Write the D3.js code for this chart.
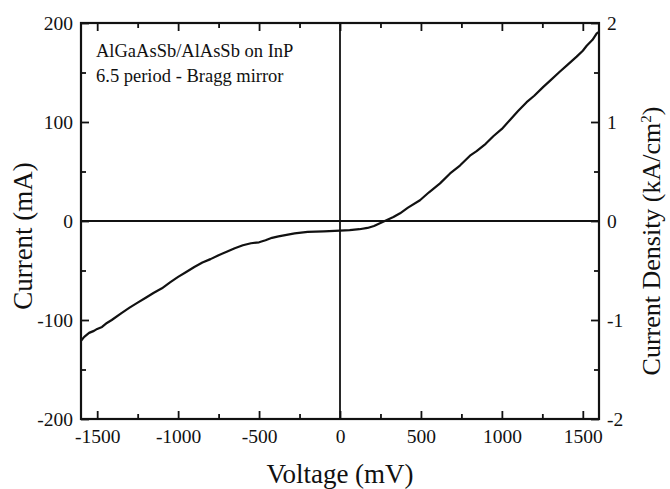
<!DOCTYPE html>
<html>
<head>
<meta charset="utf-8">
<script src="https://cdn.jsdelivr.net/npm/d3@7"></script>
<style>
  body { margin: 0; background: #fff; }
  text { font-family: "Liberation Serif", "Times New Roman", serif; fill: #111; }
</style>
</head>
<body>
<div id="chart"></div>
<script>
// I-V curve (voltage in mV, current in mA)
const voltage = [-1600, -1580, -1550, -1520, -1500, -1470, -1440, -1410, -1350, -1300,
  -1250, -1200, -1150, -1100, -1050, -1000, -950, -900, -850, -800,
  -750, -700, -650, -600, -550, -500, -460, -420, -380, -330,
  -280, -200, -100, 0, 60, 120, 170, 210, 250, 290,
  330, 371, 420, 494, 550, 618, 680, 741, 803, 844,
  900, 947, 1000, 1050, 1100, 1153, 1200, 1256, 1300, 1359,
  1400, 1462, 1500, 1524, 1560, 1586, 1600];
const current = [-121, -117, -113, -111, -109, -107, -103, -100, -93, -87.5,
  -82.5, -77.5, -72.5, -68, -62, -56.5, -51.5, -46.5, -42, -38.5,
  -34.5, -31, -27.5, -24.5, -22.5, -21.5, -19.5, -17, -15.5, -14,
  -12.5, -11, -10.5, -9.8, -9.2, -8.3, -7, -5, -2, 1,
  4, 7.8, 13.5, 21, 29, 38, 48, 56, 66, 70.5,
  78, 85.6, 93, 102, 111, 120, 126.5, 135.5, 142, 151,
  157, 166, 172, 177, 183, 189.5, 191];

const xTicks = [-1500, -1000, -500, 0, 500, 1000, 1500];
const xMinor = [-1250, -750, -250, 250, 750, 1250];
const yTicks = [-200, -100, 0, 100, 200];
const yMinor = [-150, -50, 50, 150];
const densTicks = [-2, -1, 0, 1, 2];
const densMinor = [-1.5, -0.5, 0.5, 1.5];
const notes = ['AlGaAsSb/AlAsSb on InP', '6.5 period - Bragg mirror'];

const W = 670, H = 489;
const margin = { top: 23, right: 71, bottom: 70, left: 81 };
const width = W - margin.left - margin.right;
const height = H - margin.top - margin.bottom;
const serif = '"Liberation Serif", "Times New Roman", serif';

const svg = d3.select('#chart').append('svg')
  .attr('width', W)
  .attr('height', H)
  .attr('font-family', serif);

const g = svg.append('g')
  .attr('transform', `translate(${margin.left},${margin.top})`);

const x = d3.scaleLinear().domain([-1600, 1600]).range([0, width]);
const y = d3.scaleLinear().domain([-200, 200]).range([height, 0]);
const yR = d3.scaleLinear().domain([-2, 2]).range([height, 0]);

const fmt = (d) => String(d);
const major = 8, minor = 5;

const styleAxis = (sel) => {
  sel.attr('font-family', serif);
  sel.select('.domain').remove();
  sel.selectAll('line').attr('stroke', '#111').attr('stroke-width', 1.8);
  sel.selectAll('text')
    .style('font-family', serif)
    .style('font-size', '19.5px')
    .attr('fill', '#222');
};

// bottom
g.append('g').attr('transform', `translate(0,${height})`)
  .call(d3.axisBottom(x).tickValues(xTicks).tickSize(-major).tickPadding(10).tickFormat(fmt))
  .call(styleAxis);
g.append('g').attr('transform', `translate(0,${height})`)
  .call(d3.axisBottom(x).tickValues(xMinor).tickSize(-minor).tickFormat(''))
  .call(styleAxis);
// top
g.append('g')
  .call(d3.axisTop(x).tickValues(xTicks).tickSize(-major).tickFormat(''))
  .call(styleAxis);
g.append('g')
  .call(d3.axisTop(x).tickValues(xMinor).tickSize(-minor).tickFormat(''))
  .call(styleAxis);
// left
g.append('g')
  .call(d3.axisLeft(y).tickValues(yTicks).tickSize(-major).tickPadding(8).tickFormat(fmt))
  .call(styleAxis);
g.append('g')
  .call(d3.axisLeft(y).tickValues(yMinor).tickSize(-minor).tickFormat(''))
  .call(styleAxis);
// right
g.append('g').attr('transform', `translate(${width},0)`)
  .call(d3.axisRight(yR).tickValues(densTicks).tickSize(-major).tickPadding(8).tickFormat(fmt))
  .call(styleAxis);
g.append('g').attr('transform', `translate(${width},0)`)
  .call(d3.axisRight(yR).tickValues(densMinor).tickSize(-minor).tickFormat(''))
  .call(styleAxis);

// zero lines
g.append('line')
  .attr('x1', 0).attr('x2', width)
  .attr('y1', y(0)).attr('y2', y(0))
  .attr('stroke', '#111').attr('stroke-width', 1.8);
g.append('line')
  .attr('x1', x(0)).attr('x2', x(0))
  .attr('y1', 0).attr('y2', height)
  .attr('stroke', '#111').attr('stroke-width', 1.8);

// curve
const pts = voltage.map((v, i) => [v, current[i]]);
g.append('path')
  .datum(pts)
  .attr('fill', 'none')
  .attr('stroke', '#111')
  .attr('stroke-width', 2.2)
  .attr('stroke-linejoin', 'round')
  .attr('d', d3.line().x((d) => x(d[0])).y((d) => y(d[1])));

// frame
g.append('rect')
  .attr('width', width).attr('height', height)
  .attr('fill', 'none')
  .attr('stroke', '#111')
  .attr('stroke-width', 2.2);

// annotation
g.selectAll('.note')
  .data(notes)
  .enter().append('text')
  .attr('class', 'note')
  .attr('x', 15)
  .attr('y', (d, i) => 34 + i * 25)
  .style('font-size', '18.5px')
  .attr('fill', '#222')
  .text((d) => d);

// titles
svg.append('text')
  .attr('x', margin.left + width / 2)
  .attr('y', 483)
  .attr('text-anchor', 'middle')
  .style('font-size', '27px')
  .attr('fill', '#222')
  .text('Voltage (mV)');

svg.append('text')
  .attr('transform', 'translate(32,236) rotate(-90)')
  .attr('text-anchor', 'middle')
  .style('font-size', '27px')
  .attr('fill', '#222')
  .text('Current (mA)');

const rt = svg.append('text')
  .attr('transform', 'translate(660,241) rotate(-90)')
  .attr('text-anchor', 'middle')
  .style('font-size', '26px')
  .attr('fill', '#222');
rt.append('tspan').text('Current Density (kA/cm');
rt.append('tspan').attr('dy', -9).style('font-size', '15px').text('2');
rt.append('tspan').attr('dy', 9).text(')');
</script>
</body>
</html>
